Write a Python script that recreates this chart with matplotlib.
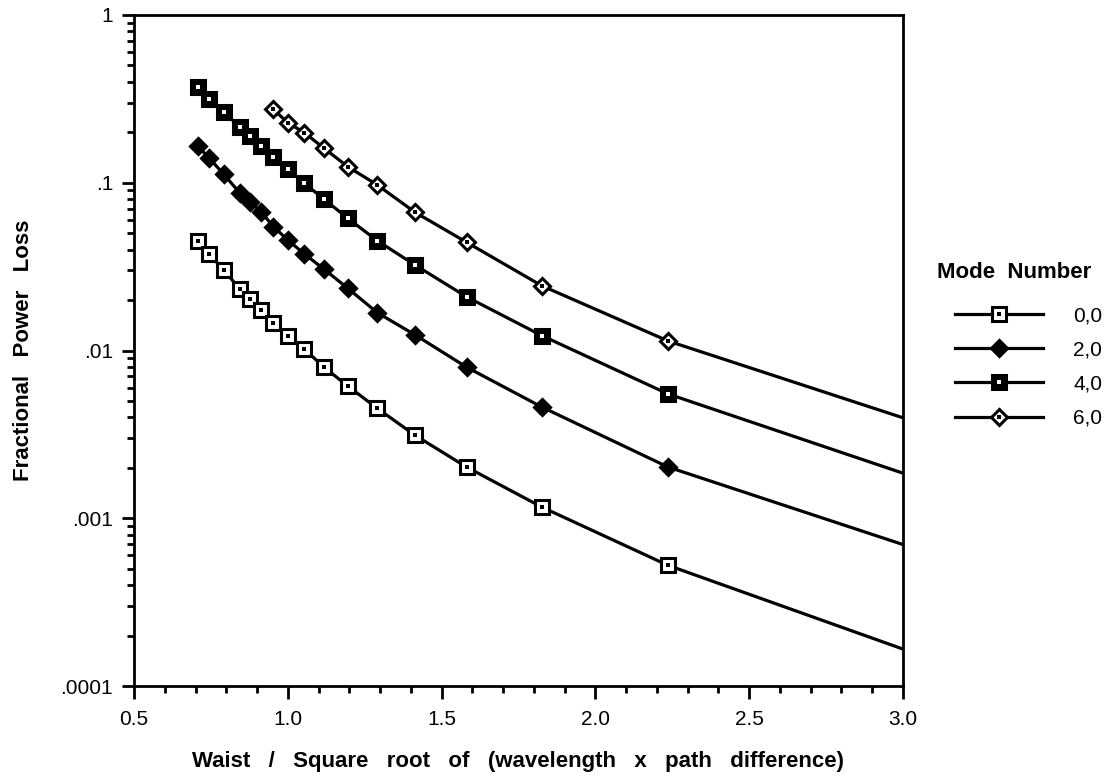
import matplotlib
matplotlib.use("Agg")
import matplotlib.pyplot as plt
from matplotlib.lines import Line2D
from matplotlib.ticker import FixedLocator, MultipleLocator, LogLocator, NullFormatter

plt.rcParams["font.family"] = ["Liberation Sans", "DejaVu Sans"]

# x = waist / sqrt(wavelength * path difference)
waist_ratio = [0.707, 0.745, 0.791, 0.845, 0.877, 0.913, 0.953, 1.000,
               1.054, 1.118, 1.195, 1.291, 1.414, 1.581, 1.826, 2.236]
x_edge = 3.0

loss_00 = [0.0451, 0.0376, 0.0302, 0.0232, 0.0202, 0.0174, 0.0145, 0.0122,
           0.0102, 0.00794, 0.00614, 0.00452, 0.00312, 0.00202, 0.001165, 0.000524]
loss_20 = [0.1656, 0.1399, 0.1128, 0.0865, 0.0771, 0.0672, 0.0547, 0.0456,
           0.0376, 0.0305, 0.0235, 0.0168, 0.01238, 0.00796, 0.0046, 0.00202]
loss_40 = [0.3738, 0.3144, 0.2652, 0.2141, 0.190, 0.1656, 0.1430, 0.1203,
           0.0992, 0.0797, 0.0614, 0.0451, 0.0323, 0.0209, 0.01226, 0.00551]
loss_60 = [0.274, 0.228, 0.1988, 0.1604, 0.1247, 0.0970, 0.0666, 0.0442,
           0.0243, 0.0114]
x_60 = waist_ratio[6:]

# value where each curve meets the right edge (x = 3.0)
edge_loss = {"0,0": 0.000166, "2,0": 0.000697, "4,0": 0.001856, "6,0": 0.00397}

modes = ["0,0", "2,0", "4,0", "6,0"]
series = {"0,0": (waist_ratio, loss_00), "2,0": (waist_ratio, loss_20),
          "4,0": (waist_ratio, loss_40), "6,0": (x_60, loss_60)}

# marker, face, size, centre-dot colour
style = {
    "0,0": ("s", "white", 9.5, "black"),
    "2,0": ("D", "black", 8.5, None),
    "4,0": ("s", "black", 10.5, "white"),
    "6,0": ("D", "white", 8.5, "black"),
}

W, H = 1109, 777
fig = plt.figure(figsize=(W / 100, H / 100), dpi=100)
ax = fig.add_axes([134 / W, 1 - 686 / H, (903 - 134) / W, (686 - 15) / H])

handles = []
for m in modes:
    xs, ys = series[m]
    mk, face, ms, dot = style[m]
    ax.plot(list(xs) + [x_edge], list(ys) + [edge_loss[m]], color="black",
            lw=2.3, solid_joinstyle="round", zorder=2)
    ax.plot(xs, ys, ls="none", marker=mk, ms=ms, mfc=face, mec="black",
            mew=2.2, zorder=3)
    h = [Line2D([], [], color="black", lw=2.3, marker=mk, ms=ms, mfc=face,
                mec="black", mew=2.2)]
    if dot:
        ax.plot(xs, ys, ls="none", marker="s", ms=2.2, mfc=dot, mec=dot,
                mew=0, zorder=4)
        h.append(Line2D([], [], ls="none", marker="s", ms=2.2, mfc=dot,
                        mec=dot, mew=0))
    handles.append(tuple(h))

ax.set_xlim(0.5, 3.0)
ax.set_yscale("log")
ax.set_ylim(1e-4, 1)

ax.xaxis.set_minor_locator(MultipleLocator(0.1))
ax.set_xticks([0.5, 1.0, 1.5, 2.0, 2.5, 3.0])
ax.set_xticklabels(["0.5", "1.0", "1.5", "2.0", "2.5", "3.0"])

ax.yaxis.set_major_locator(FixedLocator([1e-4, 1e-3, 1e-2, 1e-1, 1]))
ax.yaxis.set_minor_locator(LogLocator(base=10, subs=range(2, 10), numticks=20))
ax.yaxis.set_minor_formatter(NullFormatter())
ax.set_yticklabels([".0001", ".001", ".01", ".1", "1"])

ax.tick_params(which="major", direction="out", length=9, width=2, labelsize=15)
ax.tick_params(axis="x", which="major", pad=8)
ax.tick_params(axis="y", which="major", pad=6)
ax.tick_params(which="minor", direction="out", length=5, width=2)
ax.tick_params(top=False, right=False)
for s in ax.spines.values():
    s.set_linewidth(2)

ax.set_xlabel("Waist   /   Square   root   of   (wavelength   x   path   difference)",
              fontsize=16, fontweight="bold", labelpad=16)
ax.set_ylabel("Fractional   Power   Loss", fontsize=16, fontweight="bold",
              labelpad=19)

fig.text(937 / W, 1 - 273 / H, "Mode  Number", fontsize=16, fontweight="bold",
         ha="left", va="center")
fig.legend(handles, modes, loc="upper left",
           bbox_to_anchor=(955 / W, 1 - 306 / H), frameon=False,
           borderpad=0, borderaxespad=0, handlelength=4.23, handletextpad=1.44,
           labelspacing=0.735, fontsize=15)

fig.savefig("out.png", dpi=100)
